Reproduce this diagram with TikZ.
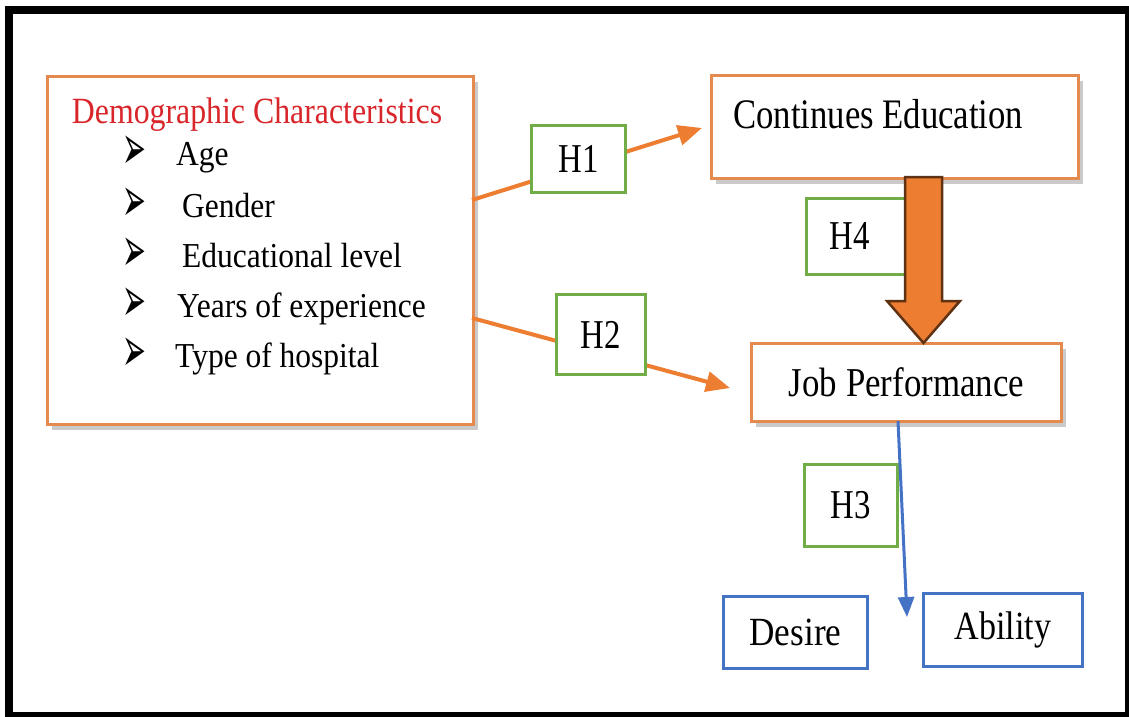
\documentclass[tikz,border=0pt]{standalone}
\usepackage{fontspec}
\setmainfont{Liberation Serif}
\newfontfamily\dejavu{DejaVu Sans}
\usetikzlibrary{shadows,arrows.meta,calc}
\definecolor{orng}{HTML}{ED7D31}
\definecolor{boxorng}{HTML}{E58A4E}
\definecolor{grn}{HTML}{70AD47}
\definecolor{blu}{HTML}{4472C4}
\definecolor{redt}{HTML}{D9262B}
\definecolor{brn}{HTML}{5E3212}
\newcommand{\sq}[2][0.85]{\scalebox{#1}[1]{#2}}
\newcommand{\fs}[1]{\fontsize{#1}{#1}\selectfont}
\newcommand{\blt}{\scalebox{0.95}[2.1]{\dejavu\fontsize{30}{30}\selectfont ➢}}
\begin{document}
\begin{tikzpicture}[x=1pt,y=-1pt,
  obox/.style={draw=boxorng,line width=3pt,fill=white,inner sep=0pt,anchor=north west,
    drop shadow={shadow xshift=4pt,shadow yshift=-5pt,opacity=0.35,fill=black!60}},
  gbox/.style={draw=grn,line width=3pt,fill=white,inner sep=0pt,anchor=north west,font=\fs{41}},
  bbox/.style={draw=blu,line width=3pt,fill=white,inner sep=0pt,anchor=north west,font=\fs{40}},
  txt/.style={inner sep=0pt,anchor=base west},
  oarrow/.style={draw=orng,line width=4pt,-{Triangle[length=24pt,width=20pt]}},
  barrow/.style={draw=blu,line width=3pt,-{Triangle[length=20pt,width=16pt]}},
  bigarrow/.style={fill=orng,draw=brn,line width=2.5pt,line join=miter}]
\useasboundingbox (0,0) rectangle (1129,716);
\begin{scope}
\clip (0,0) rectangle (1129,716);
\draw[line width=8pt] (9,10) rectangle (1129,716);
\end{scope}

% main boxes
\node[obox,minimum width=426pt,minimum height=348pt] (demo) at (46,75) {};
\node[obox,minimum width=367pt,minimum height=103pt] (ce) at (710,74) {};
\node[obox,minimum width=310pt,minimum height=78pt] (jp) at (750,342) {};
\node[bbox,minimum width=144pt,minimum height=72pt] (desire) at (722,595) {\sq[0.88]{Desire}};
\node[bbox,minimum width=159pt,minimum height=73pt] (ability) at (922,592) {\sq{Ability}};

% texts
\node[inner sep=0pt,anchor=base,text=redt,font=\fs{37}] (title) at (257,123) {\sq[0.86]{Demographic Characteristics}};
\node[txt,font=\fs{35}] (i1) at (176,165) {\sq[0.9]{Age}};
\node[txt,font=\fs{35}] (i2) at (182,217) {\sq[0.9]{Gender}};
\node[txt,font=\fs{35}] (i3) at (182,267) {\sq[0.9]{Educational level}};
\node[txt,font=\fs{35}] (i4) at (177,317) {\sq[0.9]{Years of experience}};
\node[txt,font=\fs{35}] (i5) at (175,367) {\sq[0.9]{Type of hospital}};
\foreach \y/\n in {153/1,205/2,255/3,305/4,355/5}
  \node[inner sep=0pt,anchor=center] (b\n) at (134,\y) {\blt};
\node[txt,font=\fs{42}] (cet) at (733,128) {\sq[0.826]{Continues Education}};
\node[inner sep=0pt,font=\fs{41}] (jpt) at (jp.center) {\sq{Job Performance}};

% connectors
\coordinate (d1) at (472,200);
\coordinate (e1) at (702,128);
\coordinate (d2) at (472,318);
\coordinate (e2) at (730,388);
\coordinate (j3) at (898,421);
\coordinate (t3) at (907,617);
\draw[oarrow] (d1) -- (e1);
\draw[oarrow] (d2) -- (e2);

\node[gbox,minimum width=94pt,minimum height=67pt] (h1) at (530,124) {\sq[0.8]{H1}};
\node[gbox,minimum width=89pt,minimum height=80pt] (h2) at (555,293) {\sq[0.8]{H2}};
\node[gbox,minimum width=93pt,minimum height=82pt] (h3) at (803,463) {\sq[0.8]{H3}};
\node[gbox,minimum width=100pt,minimum height=76pt,anchor=north west] (h4) at (805,197) {};
\node[inner sep=0pt,font=\fs{41}] (h4t) at (850,236) {\sq[0.8]{H4}};

\draw[barrow] (j3) -- (t3);

% big arrow from Continues Education to Job Performance
\draw[bigarrow] (905,177) -- (905,301) -- (887,301) -- (923.5,343) -- (960,301) -- (942,301) -- (942,177) -- cycle;
\end{tikzpicture}
\end{document}
